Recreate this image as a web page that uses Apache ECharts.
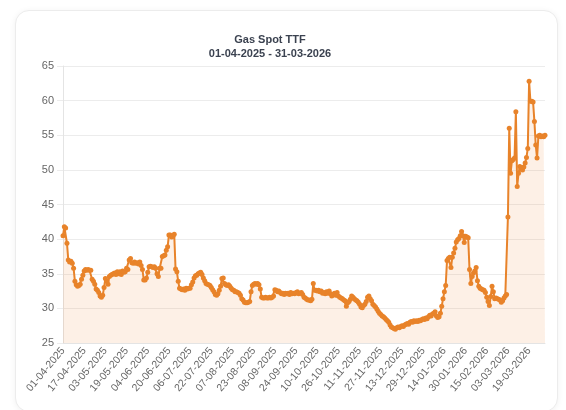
<!DOCTYPE html>
<html>
<head>
<meta charset="utf-8">
<script src="https://cdn.jsdelivr.net/npm/echarts@6/dist/echarts.min.js"></script>
<style>
  html, body { margin:0; padding:0; background:#fff; }
  #card { position:absolute; left:15px; top:10px; width:541px; height:400px;
          border:1px solid #ececec; border-radius:14px; box-shadow:0 1px 6px rgba(0,0,0,0.06); background:#fff; }
  #main { position:absolute; left:0; top:0; width:566px; height:410px; }
</style>
</head>
<body>
<div id="card"></div>
<div id="main"></div>
<script>
// TTF spot prices (EUR/MWh), one value per day
var apr25 = [40.5,41.8,41.6,39.4,37.0,36.7,36.8,36.5,35.8,33.9,33.4,33.2,33.3,33.5,34.2,34.8,35.4,35.6,35.5,35.6,35.5,35.5,34.2,33.9,33.5,32.8,32.6,32.3,31.8,31.6];
var may25 = [31.9,33.0,34.3,33.9,33.5,34.6,34.8,34.9,35.0,35.1,34.9,35.3,35.0,35.3,34.9,35.4,35.2,35.3,35.8,35.6,37.0,37.2,36.6,36.5,36.7,36.5,36.6,36.4,36.7,36.2,35.6];
var jun25 = [34.1,34.1,34.4,35.2,36.0,36.1,36.0,35.9,36.0,35.8,35.0,34.6,35.8,35.8,37.5,37.6,37.7,38.4,38.9,40.6,40.6,40.3,40.4,40.7,35.7,35.3,33.9,32.9,32.8,32.7];
var jul25 = [32.8,32.6,32.9,32.8,32.9,32.9,33.4,33.8,34.4,34.7,34.8,35.0,35.1,35.2,34.9,34.4,34.0,33.6,33.5,33.4,33.3,33.0,32.7,32.4,32.0,31.9,32.1,32.6,33.2,34.3,34.4];
var aug25 = [33.6,33.4,33.3,33.4,33.2,32.9,32.7,32.6,32.4,32.4,32.3,32.2,31.9,31.4,31.2,30.9,30.8,30.8,30.9,31.0,32.4,33.3,33.5,33.6,33.5,33.6,33.4,32.8,31.6,31.5,31.5];
var sep25 = [31.6,31.5,31.5,31.6,31.5,31.6,31.8,32.7,32.6,32.4,32.5,32.3,32.1,32.2,32.0,32.2,32.1,32.2,32.0,32.3,32.1,32.2,32.1,32.3,32.4,32.1,32.2,32.3,32.0,31.6];
var oct25 = [31.5,31.3,31.2,31.2,31.1,31.3,33.6,32.6,32.6,32.5,32.6,32.4,32.5,32.2,32.3,32.1,32.4,32.2,32.5,32.1,31.8,32.0,32.2,31.9,32.3,31.8,31.6,31.5,31.4,31.2,31.1];
var nov25 = [30.3,30.8,31.0,31.3,31.8,31.6,31.4,31.2,31.1,30.9,30.6,30.2,30.1,30.4,30.6,31.0,31.6,31.8,31.4,31.1,30.6,30.4,30.2,29.9,29.6,29.3,29.1,28.9,28.8,28.6];
var dec25 = [28.4,28.2,28.0,27.6,27.3,27.2,27.1,27.0,27.2,27.3,27.2,27.4,27.5,27.4,27.6,27.7,27.8,27.7,28.0,28.1,28.0,28.2,28.1,28.2,28.1,28.3,28.2,28.4,28.5,28.4,28.6];
var jan26 = [28.5,28.8,29.0,28.9,29.2,29.3,29.5,28.9,28.7,28.8,29.3,30.3,31.4,32.4,33.3,36.9,37.2,37.4,35.9,37.4,38.0,38.7,39.6,39.9,40.1,40.5,41.1,40.5,39.5,40.4,40.3];
var feb26 = [40.2,35.6,33.6,34.6,35.1,35.4,35.9,34.0,33.2,32.9,32.8,32.7,32.6,32.3,31.6,31.0,30.4,31.7,33.2,32.4,31.4,31.5,31.4,31.3,31.2,30.9,31.1,31.5];
var mar26 = [31.8,32.0,43.2,56.0,49.5,51.3,51.5,51.7,58.4,47.6,49.5,50.5,50.1,50.0,50.4,51.0,51.8,53.1,62.8,59.9,59.9,59.8,57.0,53.6,51.7,54.9,55.0,54.8,54.9,54.8,55.0];

var prices = [].concat(apr25, may25, jun25, jul25, aug25, sep25, oct25, nov25, dec25, jan26, feb26, mar26);

// daily category labels dd-mm-yyyy starting 01-04-2025
var startDay = Date.UTC(2025, 3, 1);
var days = [];
for (var i = 0; i < prices.length; i++) {
  var d = new Date(startDay + i * 86400000);
  var dd = d.getUTCDate(), mm = d.getUTCMonth() + 1;
  days.push((dd < 10 ? '0' + dd : dd) + '-' + (mm < 10 ? '0' + mm : mm) + '-' + d.getUTCFullYear());
}

var yTicks = { min: 25, max: 65, step: 5 };
var titleText = 'Gas Spot TTF';
var subText = '01-04-2025 - 31-03-2026';

var chart = echarts.init(document.getElementById('main'));
var lineColor = '#e8832a';
var font = '"Liberation Sans", Arial, sans-serif';
chart.setOption({
  animation: false,
  title: {
    text: titleText,
    subtext: subText,
    left: 265,
    top: 29,
    textAlign: 'center',
    itemGap: 3,
    textStyle: { fontSize: 11, fontWeight: 'bold', color: '#3b4250', fontFamily: font },
    subtextStyle: { fontSize: 11, fontWeight: 'bold', color: '#3b4250', fontFamily: font }
  },
  grid: { left: 63, right: 21, top: 66, bottom: 67 },
  xAxis: {
    type: 'category',
    data: days,
    boundaryGap: false,
    axisLine: { lineStyle: { color: '#e4e4e4' } },
    axisTick: { show: false },
    axisLabel: { interval: 15, rotate: 50, color: '#666', fontSize: 10.5, fontFamily: font, margin: 6 },
    splitLine: { show: false }
  },
  yAxis: {
    type: 'value',
    min: yTicks.min,
    max: yTicks.max,
    interval: yTicks.step,
    axisLine: { show: true, lineStyle: { color: '#e4e4e4' } },
    axisTick: { show: true, length: 6, lineStyle: { color: '#ececec' } },
    axisLabel: { color: '#666', fontSize: 11, fontFamily: font, margin: 9 },
    splitLine: { lineStyle: { color: '#ececec' } }
  },
  series: [{
    type: 'line',
    data: prices,
    symbol: 'circle',
    symbolSize: 5,
    showAllSymbol: true,
    lineStyle: { color: lineColor, width: 2 },
    itemStyle: { color: lineColor },
    areaStyle: { color: 'rgba(240,150,80,0.2)', origin: 'start' }
  }]
});
</script>
</body>
</html>
